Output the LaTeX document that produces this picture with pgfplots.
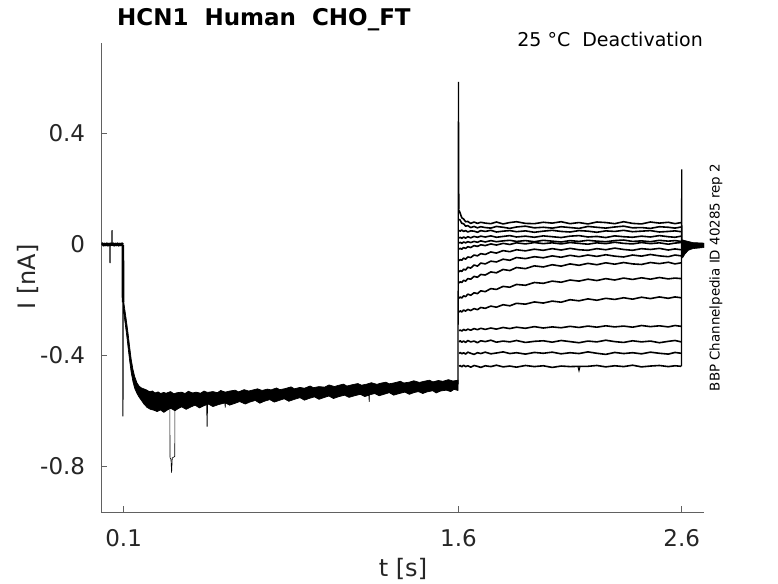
\documentclass[border=0pt]{standalone}
\usepackage{fontspec}
\setmainfont{DejaVu Sans}
\usepackage{pgfplots}
\usepackage{pgfplotstable}
\pgfplotsset{compat=1.18}
\definecolor{axgray}{rgb}{0.38,0.38,0.38}
\definecolor{txtgray}{rgb}{0.15,0.15,0.15}
\newcommand\ticksize{\fontsize{23}{27}\selectfont}

\pgfplotstableread{
t T1 T2 T3 T4 T5 T6 T7 T8 T9 T10 T11 T12 T13 T14 T15
1.603 .122 .090 .050 .022 .004 -.018 -.060 -.100 -.140 -.195 -.245 -.312 -.352 -.394 -.440
1.608 .111 .086 .047 .025 .007 -.015 -.055 -.095 -.135 -.190 -.240 -.309 -.348 -.390 -.437
1.615 .095 .075 .051 .021 .003 -.018 -.058 -.098 -.138 -.194 -.244 -.313 -.353 -.395 -.442
1.623 .091 .074 .046 .026 .008 -.012 -.050 -.090 -.130 -.186 -.237 -.307 -.349 -.391 -.436
1.632 .081 .065 .049 .022 .005 -.015 -.054 -.093 -.133 -.189 -.241 -.311 -.354 -.396 -.441
1.642 .082 .067 .044 .027 .009 -.009 -.046 -.083 -.124 -.180 -.235 -.306 -.347 -.389 -.438
1.655 .075 .060 .048 .023 .006 -.012 -.048 -.086 -.126 -.184 -.239 -.310 -.352 -.393 -.443
1.670 .080 .064 .047 .028 .010 -.005 -.039 -.075 -.116 -.175 -.232 -.304 -.349 -.397 -.437
1.685 .075 .059 .043 .025 .007 -.008 -.042 -.079 -.119 -.178 -.236 -.308 -.355 -.391 -.440
1.700 .079 .063 .049 .029 .012 -.002 -.034 -.068 -.109 -.168 -.228 -.303 -.348 -.394 -.444
1.720 .076 .060 .046 .026 .008 -.005 -.037 -.071 -.111 -.171 -.231 -.307 -.351 -.389 -.438
1.745 .074 .058 .050 .030 .013 .001 -.028 -.061 -.100 -.160 -.223 -.302 -.346 -.395 -.441
1.770 .080 .064 .044 .025 .009 -.003 -.032 -.064 -.103 -.163 -.227 -.306 -.353 -.392 -.436
1.800 .073 .061 .047 .028 .012 .003 -.023 -.054 -.091 -.152 -.218 -.300 -.349 -.388 -.442
1.830 .078 .057 .049 .031 .014 -.001 -.027 -.058 -.095 -.155 -.222 -.304 -.352 -.394 -.439
1.860 .081 .062 .045 .026 .010 .005 -.020 -.048 -.084 -.145 -.213 -.299 -.347 -.391 -.443
1.900 .075 .065 .048 .029 .013 .001 -.024 -.052 -.088 -.148 -.216 -.303 -.354 -.396 -.437
1.940 .074 .059 .043 .025 .009 .006 -.018 -.045 -.078 -.138 -.208 -.297 -.350 -.390 -.441
1.980 .079 .061 .047 .030 .014 .002 -.022 -.049 -.082 -.141 -.212 -.302 -.348 -.393 -.438
2.020 .076 .058 .050 .027 .011 .005 -.016 -.042 -.074 -.133 -.205 -.298 -.353 -.389 -.444
2.060 .081 .063 .046 .024 .008 .001 -.021 -.047 -.079 -.137 -.209 -.301 -.347 -.395 -.439
2.100 .074 .060 .044 .029 .013 .006 -.015 -.040 -.071 -.129 -.200 -.296 -.351 -.391 -.441
2.140 .078 .057 .049 .031 .010 .003 -.020 -.045 -.076 -.133 -.204 -.300 -.355 -.394 -.440
2.180 .073 .064 .047 .026 .014 .000 -.022 -.039 -.069 -.126 -.197 -.295 -.349 -.388 -.440
2.220 .080 .061 .043 .028 .011 .005 -.016 -.044 -.074 -.131 -.202 -.299 -.352 -.393 -.437
2.260 .078 .058 .048 .024 .009 .002 -.020 -.038 -.067 -.124 -.195 -.294 -.346 -.397 -.442
2.300 .074 .062 .046 .030 .013 .007 -.014 -.043 -.072 -.129 -.199 -.298 -.351 -.390 -.438
2.340 .081 .065 .050 .027 .015 .003 -.019 -.046 -.066 -.122 -.193 -.295 -.354 -.394 -.441
2.380 .075 .059 .045 .025 .010 .001 -.022 -.039 -.071 -.127 -.198 -.299 -.348 -.391 -.436
2.420 .073 .060 .047 .029 .012 .006 -.016 -.043 -.073 -.121 -.191 -.293 -.352 -.395 -.442
2.460 .080 .057 .049 .026 .009 .002 -.019 -.037 -.066 -.126 -.196 -.297 -.349 -.389 -.439
2.500 .076 .063 .044 .031 .014 .005 -.015 -.042 -.070 -.120 -.190 -.294 -.355 -.393 -.437
2.540 .079 .061 .046 .027 .011 .000 -.021 -.045 -.065 -.125 -.195 -.298 -.350 -.396 -.441
2.570 .074 .058 .048 .025 .013 .004 -.017 -.039 -.071 -.122 -.190 -.293 -.347 -.390 -.438
2.598 .078 .062 .045 .029 .010 .006 -.020 -.042 -.067 -.124 -.193 -.296 -.352 -.393 -.440
}\pulses

\begin{document}
\begin{tikzpicture}
\begin{axis}[
  width=602.7pt, height=469.3pt, scale only axis,
  xmin=0, xmax=2.7, ymin=-0.966, ymax=0.725,
  axis x line*=bottom, axis y line*=left,
  axis line style={axgray, line width=0.7pt, -},
  xtick={0.1,1.6,2.6}, xticklabels={0.1,1.6,2.6},
  ytick={-0.8,-0.4,0,0.4}, yticklabels={-0.8,-0.4,0,0.4},
  tick align=inside, major tick length=6pt,
  tick style={axgray, line width=0.7pt},
  ticklabel style={font=\ticksize, text=txtgray},
  xticklabel style={inner sep=0pt, anchor=north, yshift=-17pt},
  yticklabel style={inner sep=0pt, anchor=east, xshift=-16pt},
  /pgf/number format/assume math mode=true,
  clip=true,
]
% baseline before step
\addplot[black, line width=2.6pt, line join=round] coordinates {
(0,-.002)(0.005,.002)(0.01,-.004)(0.015,.001)(0.02,-.003)(0.025,.002)(0.03,-.004)(0.035,.001)(0.040,-.003)(0.044,.002)(0.049,-.002)(0.053,.002)(0.058,-.004)(0.063,.001)(0.068,-.003)(0.073,.002)(0.078,-.004)(0.083,.001)(0.088,-.003)(0.093,.002)(0.0965,-.002)
};
\addplot[black, line width=1pt] coordinates {(0.038,-.002)(0.039,-.068)(0.040,-.002)};
\addplot[black, line width=1pt] coordinates {(0.047,0)(0.048,.051)(0.049,0)};
% step down at 0.1 s
\addplot[black, line width=1pt] coordinates {(0.0965,-.002)(0.097,-.62)(0.0985,-.205)};
\addplot[black, line width=2.6pt] coordinates {(0.0968,-.002)(0.0975,-.21)};
% hyperpolarising band
\addplot[fill=black, draw=black, line width=0.7pt, line join=round] coordinates {
(0.099,-0.200)(0.103,-0.222)(0.108,-0.250)(0.114,-0.285)(0.120,-0.322)(0.127,-0.370)(0.134,-0.415)(0.142,-0.452)(0.150,-0.478)(0.160,-0.500)(0.170,-0.512)(0.180,-0.518)
(0.190,-0.521)(0.205,-0.526)(0.215,-0.531)(0.23,-0.529)(0.24,-0.536)(0.255,-0.532)(0.265,-0.538)(0.28,-0.534)(0.29,-0.537)(0.31,-0.531)(0.325,-0.539)(0.34,-0.535)(0.36,-0.533)(0.375,-0.538)(0.39,-0.530)(0.41,-0.536)(0.425,-0.533)(0.445,-0.537)(0.46,-0.529)(0.475,-0.534)(0.50,-0.531)(0.52,-0.535)(0.535,-0.527)(0.555,-0.533)(0.575,-0.529)(0.60,-0.526)(0.615,-0.532)(0.64,-0.524)(0.66,-0.529)(0.675,-0.526)(0.70,-0.521)(0.72,-0.527)(0.745,-0.522)(0.76,-0.525)(0.785,-0.518)(0.80,-0.524)(0.825,-0.520)(0.85,-0.514)(0.865,-0.521)(0.89,-0.516)(0.91,-0.519)(0.935,-0.511)(0.95,-0.517)(0.975,-0.513)(1.00,-0.515)(1.02,-0.507)(1.045,-0.513)(1.06,-0.509)(1.085,-0.504)(1.10,-0.511)(1.125,-0.506)(1.15,-0.502)(1.165,-0.508)(1.19,-0.504)(1.21,-0.499)(1.235,-0.505)(1.25,-0.501)(1.275,-0.497)(1.29,-0.503)(1.315,-0.499)(1.34,-0.494)(1.355,-0.500)(1.38,-0.497)(1.40,-0.492)(1.425,-0.498)(1.445,-0.494)(1.47,-0.490)(1.485,-0.496)(1.51,-0.491)(1.53,-0.494)(1.555,-0.488)(1.575,-0.493)(1.598,-0.490)
(1.598,-0.527)(1.58,-0.523)(1.565,-0.531)(1.545,-0.526)(1.52,-0.529)(1.50,-0.536)(1.485,-0.528)(1.46,-0.532)(1.44,-0.538)(1.42,-0.531)(1.40,-0.535)(1.38,-0.541)(1.36,-0.533)(1.335,-0.538)(1.31,-0.544)(1.29,-0.535)(1.27,-0.540)(1.245,-0.546)(1.225,-0.538)(1.201,-0.543)(1.200,-0.567)(1.199,-0.544)(1.18,-0.549)(1.16,-0.541)(1.135,-0.546)(1.11,-0.552)(1.09,-0.544)(1.065,-0.549)(1.04,-0.556)(1.02,-0.547)(1.00,-0.552)(0.975,-0.559)(0.955,-0.550)(0.93,-0.556)(0.91,-0.562)(0.89,-0.553)(0.865,-0.559)(0.84,-0.566)(0.82,-0.557)(0.80,-0.562)(0.775,-0.569)(0.755,-0.560)(0.73,-0.566)(0.71,-0.573)(0.69,-0.563)(0.665,-0.569)(0.645,-0.576)(0.62,-0.567)(0.60,-0.573)(0.575,-0.580)(0.556,-0.572)(0.555,-0.588)(0.554,-0.572)(0.525,-0.578)(0.50,-0.585)(0.48,-0.576)(0.46,-0.582)(0.44,-0.590)(0.42,-0.580)(0.40,-0.587)(0.38,-0.595)(0.36,-0.586)(0.345,-0.592)(0.33,-0.600)(0.31,-0.591)(0.295,-0.598)(0.28,-0.606)(0.265,-0.597)(0.25,-0.603)(0.235,-0.598)(0.22,-0.595)(0.205,-0.588)
(0.190,-0.575)(0.180,-0.563)(0.170,-0.552)(0.160,-0.538)(0.150,-0.520)(0.142,-0.496)(0.134,-0.462)(0.127,-0.420)(0.120,-0.372)(0.114,-0.330)(0.108,-0.292)(0.103,-0.262)(0.099,-0.230)
};
% artefact spikes
\addplot[black, line width=0.6pt] coordinates {(0.307,-0.59)(0.308,-0.77)(0.312,-0.775)(0.315,-0.824)(0.318,-0.77)(0.329,-0.765)(0.330,-0.59)};
\addplot[black, line width=0.8pt] coordinates {(0.472,-0.57)(0.474,-0.657)(0.476,-0.57)};
% step at 1.6 s
\addplot[black, line width=1.3pt] coordinates {(1.598,-0.505)(1.600,0.585)(1.602,0.125)};
% test pulses
\pgfplotsinvokeforeach{1,...,15}{
  \addplot[black, line width=1.6pt, line join=round] table[x=t, y=T#1]{\pulses};
}
\addplot[black, line width=1pt] coordinates {(2.135,-0.440)(2.140,-0.456)(2.145,-0.440)};
% step at 2.6 s and return to baseline
\addplot[black, line width=1.3pt] coordinates {(2.599,-0.44)(2.600,0.27)(2.601,0.0)};
\addplot[fill=black, draw=black, line width=0.6pt] coordinates {
(2.601,0.016)(2.62,0.012)(2.65,0.006)(2.7,0.004)(2.7,-0.012)(2.65,-0.016)(2.63,-0.022)(2.615,-0.035)(2.605,-0.048)(2.601,-0.05)
};
\end{axis}
% titles and labels
\node[anchor=base west, inner sep=0pt, font=\bfseries\fontsize{23}{27}\selectfont] at (15.7pt,486.3pt) {HCN1\ \ Human\ \ CHO\_FT};
\node[anchor=base east, inner sep=0pt, font=\fontsize{19}{23}\selectfont, text=black] at (601.7pt,465.3pt) {25 °C\ \ Deactivation};
\node[anchor=base, inner sep=0pt, font=\fontsize{24}{28}\selectfont, text=txtgray] at (301.7pt,-64pt) {t [s]};
\node[rotate=90, inner sep=0pt, font=\fontsize{24}{28}\selectfont, text=txtgray] at (-73.3pt,235.3pt) {I [nA]};
\node[rotate=90, inner sep=0pt, font=\fontsize{13.4}{16}\selectfont, text=black] at (614.7pt,234.8pt) {BBP Channelpedia ID 40285 rep 2};
\pgfresetboundingbox
\path[use as bounding box] (-101.3pt,-70.7pt) rectangle (676.7pt,512.3pt);
\end{tikzpicture}
\end{document}
